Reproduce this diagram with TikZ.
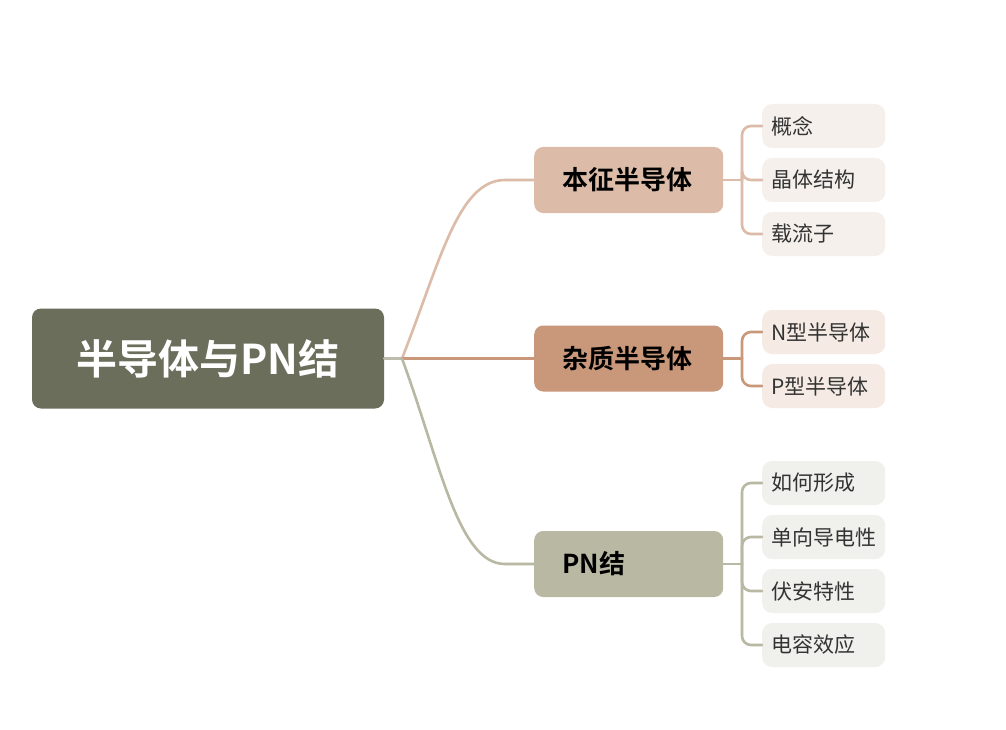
\documentclass[tikz,border=0pt]{standalone}
\usepackage{fontspec}
\newfontfamily\cjk{Noto Sans CJK SC}
\newfontfamily\cjkb{Noto Sans CJK SC Bold}
\definecolor{rootc}{HTML}{6B6E5B}
\definecolor{bA}{HTML}{DCBCA8}
\definecolor{bB}{HTML}{C9977A}
\definecolor{bC}{HTML}{B8B8A3}
\definecolor{lA}{HTML}{F5F0EB}
\definecolor{lB}{HTML}{F5EBE4}
\definecolor{lC}{HTML}{F0F0EC}
\definecolor{ltext}{HTML}{333333}
\definecolor{rootline}{HTML}{BDBDAD}
\tikzset{
  rootbox/.style={draw=none, fill=rootc, rounded corners=9pt, minimum width=352pt, minimum height=100pt,
    text=white, font=\cjkb\fontsize{41}{41}\selectfont, inner sep=0pt},
  branchbox/.style={draw=none, rounded corners=9pt, minimum height=66pt, text width=133pt,
    inner xsep=28pt, inner ysep=0pt, align=left, text=black, font=\cjkb\fontsize{26}{26}\selectfont},
  leafbox/.style={draw=none, rounded corners=10pt, minimum height=44pt, text width=105pt,
    inner xsep=9pt, inner ysep=0pt, align=left, text=ltext, font=\cjk\fontsize{21}{21}\selectfont},
  conn/.style={line width=2.6pt, line cap=round},
}
\begin{document}
\begin{tikzpicture}[x=1pt,y=-1pt]
\useasboundingbox[fill=white] (0,0) rectangle (1006,730);

\node[rootbox] (root) at (208,358.5) {半导体与PN结};

\node[branchbox, fill=bA, anchor=west] (b1) at (534,180) {本征半导体};
\node[branchbox, fill=bB, anchor=west] (b2) at (534,358.5) {杂质半导体};
\node[branchbox, fill=bC, anchor=west] (b3) at (534,564) {PN结};

\coordinate (hub) at (402,358.5);

% leaves group 1
\node[leafbox, fill=lA, anchor=west] (l11) at (762,126) {概念};
\node[leafbox, fill=lA, anchor=west] (l12) at (762,180) {晶体结构};
\node[leafbox, fill=lA, anchor=west] (l13) at (762,234) {载流子};
% group 2
\node[leafbox, fill=lB, anchor=west] (l21) at (762,332) {N型半导体};
\node[leafbox, fill=lB, anchor=west] (l22) at (762,386) {P型半导体};
% group 3
\node[leafbox, fill=lC, anchor=west] (l31) at (762,483) {如何形成};
\node[leafbox, fill=lC, anchor=west] (l32) at (762,537) {单向导电性};
\node[leafbox, fill=lC, anchor=west] (l33) at (762,591) {伏安特性};
\node[leafbox, fill=lC, anchor=west] (l34) at (762,645) {电容效应};

% root connectors
\draw[conn, rootline] (root.east) -- (hub);
\draw[conn, bA] (hub) .. controls (440,262) and (458,180) .. (505,180) -- (b1.west);
\draw[conn, bB] (hub) -- (b2.west);
\draw[conn, bC] (hub) .. controls (440,462) and (458,564) .. (505,564) -- (b3.west);

% junctions
\coordinate (j1) at (742,180);
\coordinate (j2) at (742,358.5);
\coordinate (j3) at (742,564);

\draw[conn, bA] (b1.east) -- (j1);
\foreach \l in {l11,l12,l13} \draw[conn, bA, rounded corners=9pt] (j1) |- (\l.west);
\draw[conn, bB] (b2.east) -- (j2);
\foreach \l in {l21,l22} \draw[conn, bB, rounded corners=9pt] (j2) |- (\l.west);
\draw[conn, bC] (b3.east) -- (j3);
\foreach \l in {l31,l32,l33,l34} \draw[conn, bC, rounded corners=9pt] (j3) |- (\l.west);
\end{tikzpicture}
\end{document}
